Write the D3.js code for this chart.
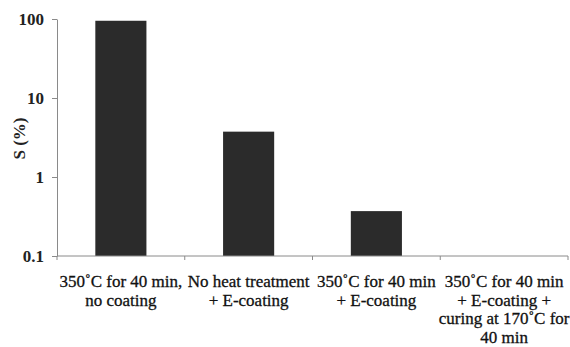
<!DOCTYPE html>
<html>
<head>
<meta charset="utf-8">
<script src="https://d3js.org/d3.v7.min.js"></script>
<style>
  body { margin: 0; background: #fff; }
  svg { display: block; }
  .axis path, .axis line { stroke: #8a8a8a; }
</style>
</head>
<body>
<svg id="chart"></svg>
<script>
var categories = ["c1", "c2", "c3", "c4"];
var labels = [
  ["350\u02daC for 40 min,", "no coating"],
  ["No heat treatment", "+ E-coating"],
  ["350\u02daC for 40 min", "+ E-coating"],
  ["350\u02daC for 40 min", "+ E-coating +", "curing at 170\u02daC for", "40 min"]
];
var values = [95, 3.75, 0.37, 0];
var yTicks = [0.1, 1, 10, 100];

var serif = "'Liberation Serif', 'Times New Roman', serif";
var width = 570, height = 347,
    margin = {top: 19, right: 2, bottom: 91, left: 57},
    w = width - margin.left - margin.right,
    h = height - margin.top - margin.bottom;

var svg = d3.select("#chart").attr("width", width).attr("height", height);
var g = svg.append("g").attr("transform", "translate(" + margin.left + "," + margin.top + ")");

var x = d3.scaleBand().domain(categories).range([0, w]).paddingInner(0.6).paddingOuter(0.3);
var y = d3.scaleLog().domain([0.1, 100]).range([h, 0]).clamp(true);
var step = x.step();

// bars
g.selectAll(".bar")
  .data(values)
  .enter().append("rect")
    .attr("class", "bar")
    .attr("x", function(d, i) { return x(categories[i]); })
    .attr("width", x.bandwidth())
    .attr("y", function(d) { return y(Math.max(d, 0.1)); })
    .attr("height", function(d) { return h - y(Math.max(d, 0.1)); })
    .attr("fill", "#2b2b2b");

// y axis
var ya = g.append("g")
    .attr("class", "axis")
    .call(d3.axisLeft(y).tickValues(yTicks).tickFormat(function(d) { return d; }).tickSize(5).tickSizeOuter(0));
ya.selectAll("text")
    .attr("x", -13)
    .attr("fill", "#222")
    .style("font-size", "17px")
    .style("font-weight", "bold")
    .style("font-family", serif);

// x axis with ticks at category boundaries
var xa = g.append("g")
    .attr("class", "axis")
    .attr("transform", "translate(0," + h + ")");
xa.append("line").attr("x1", 0).attr("x2", w).attr("y1", 0).attr("y2", 0);
xa.selectAll(".tk")
  .data(d3.range(categories.length + 1))
  .enter().append("line")
    .attr("class", "tk")
    .attr("x1", function(i) { return i < categories.length ? x(categories[i]) - step * 0.3 : w; })
    .attr("x2", function(i) { return i < categories.length ? x(categories[i]) - step * 0.3 : w; })
    .attr("y1", 0).attr("y2", 4);

// category labels
var lab = g.selectAll(".lab")
  .data(labels)
  .enter().append("text")
    .attr("class", "lab")
    .attr("text-anchor", "middle")
    .attr("fill", "#111")
    .style("font-family", serif)
    .style("font-size", "17px")
    .style("stroke", "#111")
    .style("stroke-width", "0.3px")
    .attr("transform", function(d, i) {
      return "translate(" + (x(categories[i]) + x.bandwidth() / 2) + "," + (h + 31) + ")";
    });
lab.selectAll("tspan")
  .data(function(d) { return d; })
  .enter().append("tspan")
    .attr("x", 0)
    .attr("y", function(d, j) { return j * 18.5; })
    .text(function(d) { return d; });

// y label
svg.append("text")
    .attr("transform", "translate(25," + (margin.top + h / 2 + 1) + ") rotate(-90)")
    .attr("text-anchor", "middle")
    .attr("fill", "#222")
    .style("font-family", serif)
    .style("font-size", "17px")
    .style("font-weight", "bold")
    .text("S (%)");
</script>
</body>
</html>
